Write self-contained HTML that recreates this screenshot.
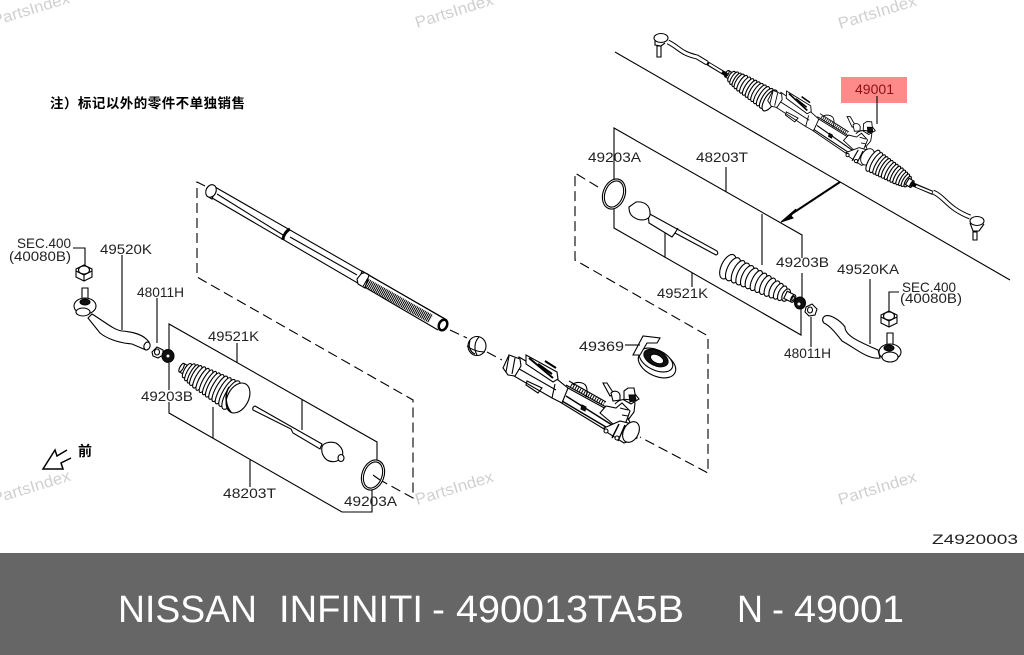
<!DOCTYPE html>
<html><head><meta charset="utf-8"><style>
html,body{margin:0;padding:0;background:#fff}
svg{display:block}
.l{fill:none;stroke:#000;stroke-width:1.1}
.d{fill:none;stroke:#000;stroke-width:1.1;stroke-dasharray:10 5}
.w{fill:#fff;stroke:#000;stroke-width:1.1}
.k{fill:#111;stroke:#000;stroke-width:1}
.t{font:14px "Liberation Sans",sans-serif;fill:#222}
.wm{font:16px "Liberation Sans",sans-serif;fill:#d0d0d0}
.f{font:38px "Liberation Sans",sans-serif;fill:#fff}
</style></head><body>
<svg width="1024" height="655" viewBox="0 0 1024 655" xmlns="http://www.w3.org/2000/svg">
<defs>
<g id="bootA">
<rect x="-5" y="-6" width="12" height="12" class="w" vector-effect="non-scaling-stroke"/>
<ellipse cx="-5" cy="0" rx="3" ry="6" class="w" vector-effect="non-scaling-stroke"/>
<g class="w">
<ellipse cx="6" cy="0" rx="5" ry="10" vector-effect="non-scaling-stroke"/><ellipse cx="12" cy="0" rx="5" ry="12" vector-effect="non-scaling-stroke"/><ellipse cx="18" cy="0" rx="5" ry="13" vector-effect="non-scaling-stroke"/><ellipse cx="24" cy="0" rx="6" ry="14" vector-effect="non-scaling-stroke"/><ellipse cx="31" cy="0" rx="6" ry="15" vector-effect="non-scaling-stroke"/><ellipse cx="38" cy="0" rx="6" ry="15.5" vector-effect="non-scaling-stroke"/><ellipse cx="45" cy="0" rx="6" ry="16" vector-effect="non-scaling-stroke"/><ellipse cx="52" cy="0" rx="6" ry="16.5" vector-effect="non-scaling-stroke"/><ellipse cx="59" cy="0" rx="7" ry="17" vector-effect="non-scaling-stroke"/><ellipse cx="66" cy="0" rx="7" ry="17.5" vector-effect="non-scaling-stroke"/><ellipse cx="73" cy="0" rx="7" ry="18" vector-effect="non-scaling-stroke"/><ellipse cx="80" cy="0" rx="7" ry="18.500" vector-effect="non-scaling-stroke"/><ellipse cx="88" cy="0" rx="8" ry="19" vector-effect="non-scaling-stroke"/><ellipse cx="96" cy="0" rx="10" ry="20" vector-effect="non-scaling-stroke"/>
</g></g>
<g id="bootB">
<g class="w">
<ellipse cx="96" cy="0" rx="9" ry="20" vector-effect="non-scaling-stroke"/><ellipse cx="88" cy="0" rx="8" ry="19" vector-effect="non-scaling-stroke"/><ellipse cx="80" cy="0" rx="7" ry="18.500" vector-effect="non-scaling-stroke"/><ellipse cx="73" cy="0" rx="7" ry="18" vector-effect="non-scaling-stroke"/><ellipse cx="66" cy="0" rx="7" ry="17.500" vector-effect="non-scaling-stroke"/><ellipse cx="59" cy="0" rx="7" ry="17" vector-effect="non-scaling-stroke"/><ellipse cx="52" cy="0" rx="6" ry="16.500" vector-effect="non-scaling-stroke"/><ellipse cx="45" cy="0" rx="6" ry="16" vector-effect="non-scaling-stroke"/><ellipse cx="38" cy="0" rx="6" ry="15.500" vector-effect="non-scaling-stroke"/><ellipse cx="31" cy="0" rx="6" ry="15" vector-effect="non-scaling-stroke"/><ellipse cx="24" cy="0" rx="6" ry="14" vector-effect="non-scaling-stroke"/><ellipse cx="18" cy="0" rx="5" ry="13" vector-effect="non-scaling-stroke"/><ellipse cx="12" cy="0" rx="5" ry="12" vector-effect="non-scaling-stroke"/><ellipse cx="6" cy="0" rx="5" ry="10" vector-effect="non-scaling-stroke"/>
</g>
<rect x="-5" y="-6" width="12" height="12" class="w" vector-effect="non-scaling-stroke"/>
<ellipse cx="-5" cy="0" rx="3" ry="6" class="w" vector-effect="non-scaling-stroke"/>
<ellipse cx="-5" cy="0" rx="1.500" ry="3.500" class="w" vector-effect="non-scaling-stroke"/>
</g>
<g id="rack">
<path class="w" d="M519,357 L558,380 L568,388 L608,410 L628,418 L636,436 L622,440 L560,402 L552,398 L514,376 Z"/>
<path class="l" d="M514,366 L556,390 M527,381 L542,388 L538,393 L526,385 Z M555,384 L552,398 M568,388 L562,403"/>
<path class="w" d="M503,368 L509,355 L520,359 L521,366 L515,376 L508,375 Z"/>
<path class="l" d="M509,356 L506,372 M515,358 L512,374"/>
<path class="w" d="M526,355 L557,372 L558,379 L553,382 L526,364 Z"/>
<path class="l" d="M529,358 L553,378" style="stroke-width:2"/>
<path class="l" d="M538,364 L552,374 M545,361 L556,368" style="stroke-width:2"/>
<path class="l" d="M573,385 C575,381 584,382 586,386 C588,390 587,394 586,397"/>
<path class="l" d="M566,385 L606,407 M569,381 L606,402"/>
<path style="fill:none;stroke:#000;stroke-width:4;stroke-dasharray:1 1.5" d="M571,385 L604,404"/>
<path class="l" d="M566,396 L620,430 M562,401 L616,433" style="stroke-width:1.4"/>
<path class="k" d="M582,405 L586,407 L585,411 L581,409 Z"/>
<path class="w" d="M600,413 L606,406 L616,408 L622,403 L630,411 L626,422 L613,424 Z"/>
<path class="l" d="M603,383 L607,383 L614,394 L610,396 Z"/>
<path class="w" d="M611,393 C614,390 619,391 620,395 L620,400 L613,401 Z"/>
<path class="w" d="M624,391 L628,388 L634,388 L635,394 L639,399 L631,404 L624,400 Z"/>
<path class="k" d="M629,395 L635,395 L636,400 L630,402 Z"/>
<path class="l" d="M615,404 C620,398 630,398 635,403 L634,412 L628,420 M620,408 L628,410 M622,415 L628,416"/>
<path class="w" d="M604,428 L620,421 L636,425 L637,438 L624,443 L608,433 Z"/>
<ellipse cx="631" cy="432" rx="7.500" ry="11" transform="rotate(28 631 432)" class="w"/>
<path class="l" d="M619,424 L612,438 M625,425 L618,441" style="stroke-width:1.400"/>
<circle cx="606" cy="431" r="2" class="w"/><circle cx="617" cy="438" r="2" class="w"/>
</g>
<g id="nut"><polygon points="-8,-4 0,-8 8,-4 8,4 0,8 -8,4" class="w"/><path class="l" d="M-8,-2 L0,2 L8,-2 M0,2 L0,8"/><ellipse cx="0" cy="-3" rx="5.500" ry="4" class="w"/></g>
<g id="cage">
<ellipse cx="0" cy="0" rx="11" ry="15.500" class="w"/>
<ellipse cx="0" cy="0" rx="9" ry="13.500" class="w"/>
</g>
</defs>
<rect width="1024" height="655" fill="#fff"/>

<!-- watermarks -->
<text transform="translate(-6,26) rotate(-17)" class="wm" textLength="80" lengthAdjust="spacingAndGlyphs">PartsIndex</text>
<text transform="translate(417,28) rotate(-17)" class="wm" textLength="81" lengthAdjust="spacingAndGlyphs">PartsIndex</text>
<text transform="translate(840,29) rotate(-17)" class="wm" textLength="81" lengthAdjust="spacingAndGlyphs">PartsIndex</text>
<text transform="translate(-6,504) rotate(-17)" class="wm" textLength="81" lengthAdjust="spacingAndGlyphs">PartsIndex</text>
<text transform="translate(417,505) rotate(-17)" class="wm" textLength="81" lengthAdjust="spacingAndGlyphs">PartsIndex</text>
<text transform="translate(840,505) rotate(-17)" class="wm" textLength="81" lengthAdjust="spacingAndGlyphs">PartsIndex</text>

<!-- note -->
<text x="50" y="108" textLength="195" lengthAdjust="spacing" style="font:bold 13.5px 'Liberation Sans','Noto Sans CJK SC',sans-serif;fill:#000">注）标记以外的零件不单独销售</text>
<text x="78" y="456" style="font:bold 14px 'Liberation Sans','Noto Sans CJK SC',sans-serif;fill:#000">前</text>

<!-- red box -->
<rect x="841" y="77" width="66" height="26" fill="#ff8a8a"/>

<!-- top assembly -->
<path class="l" d="M615,52 L1010,280"/>
<path class="l" d="M877,96 V124"/>
<use href="#bootA" transform="translate(729,75) rotate(32) scale(.5,.6)"/>
<use href="#rack" transform="matrix(.8 .04 -.04 .8 380 -214)"/>
<use href="#bootB" transform="translate(910,183) rotate(211) scale(.45,.6)"/>
<path style="fill:none;stroke:#000;stroke-width:4" d="M707,63 L727,75 M912,184 L933,193"/>
<path style="fill:none;stroke:#fff;stroke-width:2" d="M709,64 L722,72 M916,186 L932,192.500"/>
<path style="fill:none;stroke:#000;stroke-width:5" d="M668,42 C680,48 680,53 697,57 L707,63"/>
<path style="fill:none;stroke:#fff;stroke-width:3" d="M668,42 C680,48 680,53 697,57 L707,63"/>
<ellipse cx="661" cy="38" rx="7" ry="4.500" class="w"/>
<path class="w" d="M657,46 H661 V57 H657 Z"/><path class="l" d="M655,40 V45 L661,46 L665,43"/>
<path style="fill:none;stroke:#000;stroke-width:5" d="M933,192 C945,197 947,208 970,217"/>
<path style="fill:none;stroke:#fff;stroke-width:3" d="M933,192 C945,197 947,208 970,217"/>
<ellipse cx="977" cy="221" rx="7" ry="4.500" class="w"/>
<path class="w" d="M973,232 H977 V240 H973 Z"/><path class="l" d="M970,223 L973,231 H979 L984,224"/>

<!-- arrow -->
<path style="fill:none;stroke:#000;stroke-width:2" d="M840,182 L790,215"/>
<polygon points="781,222 796,209 791,216 793,218" fill="#000" stroke="#000"/>

<!-- right exploded box -->
<path class="l" d="M614,180 V128 L802,235 V258 M802,273 V297 M801,308 V335 L614,228 V208"/>
<path class="l" d="M726,167 V192 M762,214 V265 M665,232 V257 M692,273 V287"/>
<path class="d" d="M598,187 L575,173 V260 L708,336 V473 L640,437"/>
<use href="#cage" transform="translate(614,194) rotate(20)"/>
<path class="w" d="M648,213 L717,251 Q719,254 716,255 L675,233 L672,237 L649,223 Z"/>
<path class="l" d="M675,233 L678,228"/>
<path class="w" d="M629,207 L636,202 C645,201 650,206 650,213 C651,220 642,221 637,219 C630,216 629,212 629,207 Z"/>
<use href="#bootB" transform="translate(790,297) rotate(206) scale(.72,.66)"/>
<g transform="translate(800,303)"><ellipse cx="0" cy="0" rx="5.500" ry="6" class="k"/><ellipse cx="-1" cy="1" rx="1.500" ry="1.500" fill="#fff"/></g>
<path class="w" d="M806,307 L812,304 L817,309 L815,315 L809,316 L805,312 Z"/><ellipse cx="810" cy="310" rx="2.500" ry="3" class="w"/>
<path class="l" d="M811,317 V347"/>
<path class="l" d="M870,279 V344"/>
<path class="l" d="M899,292 H889 V312"/>
<use href="#nut" transform="translate(889,319)"/>
<path class="w" d="M887,333 H893 V346 H887 Z"/>
<path class="w" d="M825,316 C830,314 840,320 845,327 C845,336 860,342 878,350 L880,358 C868,360 855,348 842,341 C835,332 830,326 824,323 C822,321 822,318 825,316 Z"/>
<ellipse cx="890" cy="352" rx="11" ry="8" class="w"/>
<ellipse cx="890" cy="357" rx="8" ry="5" class="w"/>
<ellipse cx="889" cy="348" rx="5" ry="3" class="k"/>

<!-- left exploded rod -->
<path class="d" d="M205,186 L197,182 V277 L413,400 V498 L380,480"/>
<path class="l" d="M215,187 L447,320 M207,195 L438,330 M217,194 L283,235 M290,237 L357,275"/>
<path class="w" d="M212,185 L216,188 L212,199 L207,196 Z"/>
<ellipse cx="211" cy="191" rx="5" ry="6.500" transform="rotate(25 211 191)" class="w"/>
<path style="fill:none;stroke:#000;stroke-width:3" d="M290,229 C286,231 283,236 283,240"/>
<path class="w" d="M357,279 L361,274 C364,272 367,273 369,275 L365,288 L358,284 Z"/>
<path style="fill:none;stroke:#000;stroke-width:9;stroke-dasharray:1 .8" d="M365,282 L431,319"/>
<path class="l" d="M361,274 L362,271 L443,318"/>
<ellipse cx="443" cy="325" rx="4" ry="5.500" transform="rotate(25 443 325)" fill="#fff" stroke="#000" stroke-width="2.500"/>
<path class="d" d="M450,330 L467,338 M487,352 L502,360"/>
<ellipse cx="477" cy="346" rx="9" ry="9.500" class="w"/>
<path class="l" d="M470,341 C468,346 470,352 475,354 M467,346 C472,350 478,352 485,352 M479,337 C474,342 474,350 477,355"/>

<!-- middle rack -->
<use href="#rack"/>

<!-- 49369 -->
<ellipse cx="657" cy="364" rx="20" ry="12" transform="rotate(26 657 364)" class="w"/>
<ellipse cx="656" cy="360" rx="18" ry="10" transform="rotate(26 656 360)" class="w"/>
<ellipse cx="656" cy="358" rx="13" ry="7.500" transform="rotate(26 656 358)" class="k"/>
<ellipse cx="657" cy="359" rx="7" ry="4" transform="rotate(26 657 359)" fill="#fff" stroke="#000"/>
<path class="w" d="M633,355 L643,336 L660,338 L657,343 L647,343 L640,355 Z"/>
<path class="l" d="M625,345 H640"/>

<!-- left tie rod -->
<path class="l" d="M73,248 H85 V266"/>
<use href="#nut" transform="translate(84,273)"/>
<path class="w" d="M82,288 H88 V301 H82 Z"/>
<path class="l" d="M122,255 V330 M157,298 V343"/>
<path class="w" d="M92,314 C105,322 114,330 122,331 C135,332 144,335 149,342 L146,350 L132,344 C118,343 106,338 100,333 L88,318 Z"/>
<ellipse cx="147" cy="346" rx="3" ry="4" transform="rotate(20 147 346)" class="w"/>
<ellipse cx="85" cy="306" rx="11" ry="8" class="w"/>
<ellipse cx="83" cy="312" rx="7" ry="4" class="w"/>
<ellipse cx="85" cy="302" rx="5" ry="3" class="k"/>
<path class="w" d="M152,352 L157,347 L163,350 L163,355 L158,358 L153,356 Z"/><ellipse cx="157" cy="352" rx="2.500" ry="3" class="w"/>
<g transform="translate(168,356)"><ellipse cx="0" cy="0" rx="6" ry="6.500" class="k"/><ellipse cx="0" cy="0" rx="1.500" ry="1.500" fill="#fff"/></g>

<!-- left exploded box -->
<path class="l" d="M169,350 V324 L377,442 V460 M169,363 V390 M169,402 V413 L342,512 H372 V490"/>
<path class="l" d="M237,343 V363 M302,400 V430 M213,407 V438 M250,460 V487"/>
<use href="#bootA" transform="translate(184,369) rotate(29) scale(.56,.8)"/>
<ellipse cx="238" cy="398" rx="10.500" ry="16" transform="rotate(28 238 398)" class="w"/>
<path class="l" d="M229,387 C224,395 226,407 231,412" style="stroke-width:1.500"/>
<path class="w" d="M255,406 L322,444 L320,449 L293,433 L291,429 L253,410 Q252,407 255,406 Z"/>
<path class="w" d="M322,447 C323,443 330,441 336,443 C342,447 344,452 342,456 C340,462 332,463 327,460 C323,457 321,452 322,447 Z"/>
<ellipse cx="341" cy="458" rx="3" ry="3.500" class="w"/>
<use href="#cage" transform="translate(373,475) rotate(20)"/>
<path class="l" d="M373,475 L380,480"/>

<!-- front arrow -->
<path style="fill:none;stroke:#000;stroke-width:1.500" d="M67,450 L57,456 L55,450 L43,469 L63,469 L61,463 L71,458"/>

<!-- labels -->
<text class="t" x="588" y="162" textLength="53" lengthAdjust="spacingAndGlyphs">49203A</text>
<text class="t" x="696" y="162" textLength="52" lengthAdjust="spacingAndGlyphs">48203T</text>
<text class="t" x="776" y="267" textLength="53" lengthAdjust="spacingAndGlyphs">49203B</text>
<text class="t" x="837" y="274" textLength="62" lengthAdjust="spacingAndGlyphs">49520KA</text>
<text class="t" x="902" y="292" textLength="54" lengthAdjust="spacingAndGlyphs">SEC.400</text>
<text class="t" x="900" y="303" textLength="62" lengthAdjust="spacingAndGlyphs">(40080B)</text>
<text class="t" x="657" y="298" textLength="51" lengthAdjust="spacingAndGlyphs">49521K</text>
<text class="t" x="784" y="358" textLength="47" lengthAdjust="spacingAndGlyphs">48011H</text>
<text class="t" x="579" y="351" textLength="45" lengthAdjust="spacingAndGlyphs">49369</text>
<text x="855" y="94" textLength="39" lengthAdjust="spacingAndGlyphs" style="font:14px 'Liberation Sans',sans-serif;fill:#8f1010">49001</text>
<text class="t" x="17" y="248" textLength="54" lengthAdjust="spacingAndGlyphs">SEC.400</text>
<text class="t" x="9" y="261" textLength="62" lengthAdjust="spacingAndGlyphs">(40080B)</text>
<text class="t" x="100" y="254" textLength="52" lengthAdjust="spacingAndGlyphs">49520K</text>
<text class="t" x="137" y="297" textLength="47" lengthAdjust="spacingAndGlyphs">48011H</text>
<text class="t" x="208" y="341" textLength="51" lengthAdjust="spacingAndGlyphs">49521K</text>
<text class="t" x="141" y="401" textLength="52" lengthAdjust="spacingAndGlyphs">49203B</text>
<text class="t" x="223" y="498" textLength="53" lengthAdjust="spacingAndGlyphs">48203T</text>
<text class="t" x="344" y="506" textLength="53" lengthAdjust="spacingAndGlyphs">49203A</text>
<text class="t" x="932" y="544" textLength="86" lengthAdjust="spacingAndGlyphs">Z4920003</text>

<!-- footer -->
<rect x="0" y="553" width="1024" height="102" fill="#666"/>
<text class="f" x="118" y="622" textLength="139" lengthAdjust="spacingAndGlyphs">NISSAN</text>
<text class="f" x="279" y="622" textLength="144" lengthAdjust="spacingAndGlyphs">INFINITI</text>
<text class="f" x="432" y="622" textLength="13" lengthAdjust="spacingAndGlyphs">-</text>
<text class="f" x="456" y="622" textLength="228" lengthAdjust="spacingAndGlyphs">490013TA5B</text>
<text class="f" x="737" y="622" textLength="26" lengthAdjust="spacingAndGlyphs">N</text>
<text class="f" x="772" y="622" textLength="12" lengthAdjust="spacingAndGlyphs">-</text>
<text class="f" x="794" y="622" textLength="110" lengthAdjust="spacingAndGlyphs">49001</text>
</svg>
</body></html>
